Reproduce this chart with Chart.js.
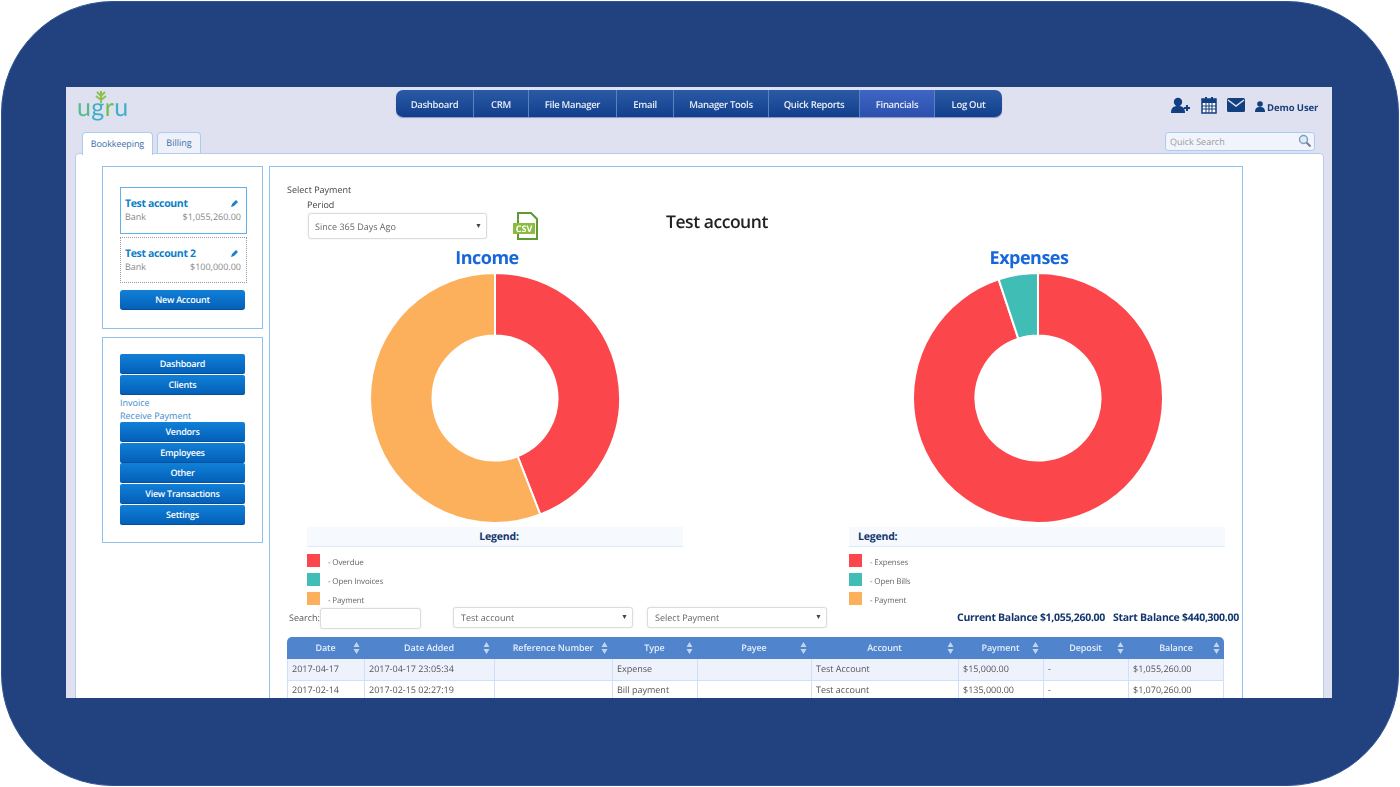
<!DOCTYPE html>
<html>
<head>
<meta charset="utf-8">
<script src="https://cdn.jsdelivr.net/npm/chart.js@4"></script>
<style>
html, body { margin: 0; padding: 0; width: 1400px; height: 787px; overflow: hidden; background: #fff; font-family: "Open Sans", sans-serif; text-rendering: geometricPrecision; }
.a { position: absolute; white-space: nowrap; box-sizing: border-box; }
.box { border: 1.5px solid #8fc0ee; background: #fff; }
.btn { background: linear-gradient(180deg, #1180d8 0%, #0460b8 100%); color: #fff; font-size: 9px; font-weight: 600; letter-spacing: -.25px; text-align: center; border-radius: 2px; left: 120px; width: 125px; line-height: 20px; height: 20px; border-bottom: 1px solid #04509a; }
.input { background: #fff; border: 1px solid #dcdcdc; border-radius: 3px; font-size: 9px; color: #666; box-shadow: 0 0 2px #e6e6e6; }
.arrow { color: #444; font-size: 7px; }
.txt { font-size: 9px; color: #555; }
.navy { color: #14366f; font-weight: 700; }
.sw { width: 13px; height: 13px; }
.legend-head { background: #f6f9fe; border-bottom: 1.5px solid #dcebfa; height: 20px; font-size: 10.5px; line-height: 20px; letter-spacing: -.2px; }
.legend-label { font-size: 8px; color: #666; letter-spacing: -.15px; }
.th { color: #e6eefa; font-size: 9px; font-weight: 600; line-height: 22px; text-align: center; letter-spacing: -.1px; }
.td { font-size: 9px; color: #555; line-height: 20px; padding-left: 5px; }
</style>
</head>
<body>
<div class="a" style="left:1px;top:1px;width:1398px;height:785px;background:#21427f;border:1px solid #2f5597;border-radius:112px;"></div>
<div class="a" id="app" style="left:66px;top:87px;width:1266px;height:611px;background:#dfe1f1;overflow:hidden;"></div>
<div class="a" id="page" style="left:0;top:0;width:1400px;height:698px;overflow:hidden;filter:blur(.3px);"></div>

<script>
// chart data
const incomeLabels = ['Overdue', 'Open Invoices', 'Payment'];
const incomeValues = [44.1, 0, 55.9];
const expenseLabels = ['Expenses', 'Open Bills', 'Payment'];
const expenseValues = [94.9, 5.1, 0];
const sliceColors = ['#fb464c', '#40bdb5', '#fdb05c'];

// page text
const navItems = ['Dashboard', 'CRM', 'File Manager', 'Email', 'Manager Tools', 'Quick Reports', 'Financials', 'Log Out'];
const sideTop = ['Dashboard', 'Clients'];
const sideBottom = ['Vendors', 'Employees', 'Other', 'View Transactions', 'Settings'];
const tableHead = ['Date', 'Date Added', 'Reference Number', 'Type', 'Payee', 'Account', 'Payment', 'Deposit', 'Balance'];
const row1 = ['2017-04-17', '2017-04-17 23:05:34', '', 'Expense', '', 'Test Account', '$15,000.00', '-', '$1,055,260.00'];
const row2 = ['2017-02-14', '2017-02-15 02:27:19', '', 'Bill payment', '', 'Test account', '$135,000.00', '-', '$1,070,260.00'];

// layout, pixels
const navEdges = [396, 474, 529, 617, 674, 769, 860, 935, 1002];
const colEdges = [287, 364, 494, 612, 697, 811, 958, 1043, 1128, 1224];
const sideTopY = [354, 375];
const sideBottomY = [422, 443, 463, 484, 505];

let html = '';
const put = (cls, style, text) => { html += `<div class="a ${cls}" style="${style}">${text || ''}</div>`; };

// logo
put('', 'left:77px;top:93px;font-size:25px;line-height:28px;color:#3fb0c6;font-family:Lato,sans-serif;font-weight:400;letter-spacing:.4px;', '<span style="color:#55bb8c">u</span>g<span style="color:#6cc04a">r</span>u');
html += `<svg class="a" style="left:90px;top:88px" width="20" height="16"><path d="M11 15V3M11 12L6 8M11 12l5-4M11 8L7 4M11 8l4-4" stroke="#8cc152" stroke-width="2" fill="none"/></svg>`;

// top nav
put('', 'left:396px;top:90px;width:606px;height:27px;border-radius:7px;background:linear-gradient(180deg,#2a5aa6 0%,#123f8c 100%);box-shadow:0 1px 1px #8d94c0;');
navItems.forEach((t, i) => {
  const active = t === 'Financials';
  const bg = active ? 'background:linear-gradient(180deg,#3f66c4,#2c4fae);' : '';
  const line = i < navItems.length - 1 ? 'border-right:1px solid #5a82bd;' : '';
  put('', `left:${navEdges[i]}px;top:90px;width:${navEdges[i + 1] - navEdges[i]}px;height:27px;${bg}${line}text-align:center;line-height:29px;color:#e8eef8;font-size:9.5px;font-weight:600;letter-spacing:-.3px;`, t);
});

// header icons
html += `<svg class="a" style="left:1171px;top:97px" width="20" height="17" fill="#123f80"><circle cx="7" cy="5" r="4.2"/><path d="M0 16c0-6 3-7 7-7s7 1 7 7z"/><path d="M13 10h6v2h-6zM15 8h2v6h-2z"/></svg>`;
html += `<svg class="a" style="left:1201px;top:96px" width="16" height="18"><rect x="1" y="3" width="14" height="14" fill="#fff" stroke="#123f80" stroke-width="1.5"/><rect x="1" y="3" width="14" height="4" fill="#123f80"/><path d="M5 1v4M11 1v4" stroke="#123f80" stroke-width="2"/><path d="M1 10h14M1 13h14M5 7v10M8 7v10M11 7v10" stroke="#123f80"/></svg>`;
html += `<svg class="a" style="left:1227px;top:98px" width="18" height="14"><rect width="18" height="14" rx="1.5" fill="#123f80"/><path d="M1 2l8 6 8-6" stroke="#dfe1f1" stroke-width="1.5" fill="none"/></svg>`;
html += `<svg class="a" style="left:1255px;top:101px" width="10" height="11" fill="#123f80"><circle cx="5" cy="3" r="2.8"/><path d="M0 11c0-4 2-5 5-5s5 1 5 5z"/></svg>`;
put('', 'left:1267px;top:101px;font-size:9.5px;font-weight:700;color:#1a3f7a;line-height:13px;letter-spacing:-.1px;', 'Demo User');

// tabs and quick search
put('', 'left:75px;top:153px;width:1249px;height:560px;background:#fff;border:1.5px solid #b4cdea;border-radius:4px;');
put('', 'left:82px;top:132px;width:71px;height:23px;background:#fff;border:1.5px solid #a9cdee;border-bottom:none;border-radius:4px 4px 0 0;text-align:center;line-height:21px;font-size:9px;color:#3a6ea8;letter-spacing:-.1px;', 'Bookkeeping');
put('', 'left:157px;top:132px;width:44px;height:21px;background:#eef1fa;border:1.5px solid #a9cdee;border-bottom:none;border-radius:4px 4px 0 0;text-align:center;line-height:20px;font-size:9px;color:#3a6ea8;', 'Billing');
put('', 'left:1165px;top:132px;width:150px;height:19px;background:#f1f4fc;border:1.5px solid #a9cdee;border-radius:3px;font-size:9px;color:#9a9a9a;line-height:17px;padding-left:4px;', 'Quick Search');
html += `<svg class="a" style="left:1298px;top:134px" width="14" height="14"><circle cx="5.5" cy="5.5" r="4" fill="#dfeaf7" stroke="#7f9fc2" stroke-width="1.5"/><path d="M8.5 8.5l4 4" stroke="#6d7f95" stroke-width="2"/></svg>`;

// side panels
put('box', 'left:102px;top:166px;width:161px;height:163px;');
put('', 'left:120px;top:187px;width:127px;height:47px;border:1.5px solid #62b0ea;background:#fff;');
put('', 'left:125px;top:197px;font-size:10.5px;font-weight:700;color:#0a80c8;line-height:14px;letter-spacing:-.35px;', 'Test account');
put('txt', 'left:125px;top:210px;color:#888;line-height:13px;', 'Bank');
put('txt', 'right:1159px;top:210px;color:#888;line-height:13px;', '$1,055,260.00');
put('', 'left:120px;top:237px;width:127px;height:46px;border:1px dotted #999;background:#fff;');
put('', 'left:125px;top:247px;font-size:10.5px;font-weight:700;color:#0a80c8;line-height:14px;letter-spacing:-.35px;', 'Test account 2');
put('txt', 'left:125px;top:260px;color:#888;line-height:13px;', 'Bank');
put('txt', 'right:1159px;top:260px;color:#888;line-height:13px;', '$100,000.00');
[[230, 203], [230, 253]].forEach(p => {
  html += `<svg class="a" style="left:${p[0]}px;top:${p[1] - 4}px" width="9" height="9"><path d="M1 8l1-3 4-4 2 2-4 4z" fill="#1b7fd0"/></svg>`;
});
put('btn', 'top:290px;border-radius:3px;', 'New Account');

put('box', 'left:102px;top:337px;width:161px;height:206px;');
sideTop.forEach((t, i) => put('btn', `top:${sideTopY[i]}px;`, t));
put('', 'left:120px;top:396px;font-size:9px;color:#3d8ccb;line-height:13px;', 'Invoice');
put('', 'left:120px;top:409px;font-size:9px;color:#3d8ccb;line-height:13px;', 'Receive Payment');
sideBottom.forEach((t, i) => put('btn', `top:${sideBottomY[i]}px;`, t));

// main panel
put('box', 'left:269px;top:166px;width:974px;height:560px;');
put('txt', 'left:287px;top:183px;line-height:13px;color:#444;', 'Select Payment');
put('txt', 'left:307px;top:198px;line-height:13px;color:#444;', 'Period');
put('input', 'left:308px;top:213px;width:179px;height:26px;line-height:25px;padding-left:6px;', 'Since 365 Days Ago');
put('arrow', 'left:475px;top:222px;', '▼');
html += `<svg class="a" style="left:512px;top:212px" width="27" height="29"><path d="M6 1h13l6 6v20H6z" fill="#fff" stroke="#5f9a32" stroke-width="2"/><rect x="1" y="11" width="22" height="11" fill="#8cbc3f"/><text x="12" y="20" text-anchor="middle" font-size="9" font-weight="700" fill="#fff" font-family="Open Sans">CSV</text></svg>`;
put('', 'left:666px;top:210px;font-size:17.5px;font-weight:600;color:#222;line-height:25px;letter-spacing:-.45px;', 'Test account');
put('', 'left:387px;width:200px;text-align:center;top:246px;font-size:18px;font-weight:700;color:#1766dc;line-height:25px;letter-spacing:-.5px;', 'Income');
put('', 'left:929px;width:200px;text-align:center;top:246px;font-size:18px;font-weight:700;color:#1766dc;line-height:25px;letter-spacing:-.5px;', 'Expenses');

// legends
put('legend-head navy', 'left:307px;top:527px;width:376px;text-align:center;padding-left:8px;', 'Legend:');
put('legend-head navy', 'left:849px;top:527px;width:376px;padding-left:9px;', 'Legend:');
[555, 574, 593].forEach((y, i) => {
  put('sw', `left:307px;top:${y - 1}px;background:${sliceColors[i]};`);
  put('legend-label', `left:328px;top:${y + 1}px;line-height:13px;`, '- ' + incomeLabels[i]);
  put('sw', `left:849px;top:${y - 1}px;background:${sliceColors[i]};`);
  put('legend-label', `left:870px;top:${y + 1}px;line-height:13px;`, '- ' + expenseLabels[i]);
});

// filters
put('txt', 'left:289px;top:611px;line-height:13px;', 'Search:');
put('input', 'left:320px;top:608px;width:101px;height:21px;');
put('input', 'left:453px;top:607px;width:180px;height:21px;line-height:20px;padding-left:7px;', 'Test account');
put('arrow', 'left:621px;top:613px;', '▼');
put('input', 'left:647px;top:607px;width:180px;height:21px;line-height:20px;padding-left:7px;', 'Select Payment');
put('arrow', 'left:815px;top:613px;', '▼');
put('navy', 'left:957px;top:611px;font-size:10.5px;line-height:15px;letter-spacing:-.3px;', 'Current Balance $1,055,260.00');
put('navy', 'left:1113px;top:611px;font-size:10.5px;line-height:15px;letter-spacing:-.28px;', 'Start Balance $440,300.00');

// table
put('', 'left:287px;top:637px;width:937px;height:22px;background:#5084cc;border-radius:5px 5px 0 0;');
put('', 'left:287px;top:659px;width:937px;height:21px;background:#eef2fd;');
put('', 'left:287px;top:680px;width:937px;height:20px;background:#fff;');
put('', 'left:287px;top:680px;width:937px;height:1px;background:#cfe0f8;');
tableHead.forEach((t, i) => {
  const x = colEdges[i], w = colEdges[i + 1] - x;
  put('th', `left:${x}px;top:637px;width:${w}px;`, t);
  html += `<svg class="a" style="left:${colEdges[i + 1] - 11}px;top:642px" width="7" height="12" fill="#c3d5ee"><path d="M3.5 0l3 5h-6zM3.5 12l3-5h-6z"/></svg>`;
  put('', `left:${colEdges[i]}px;top:659px;width:1px;height:41px;background:#cfe0f8;`);
  put('td', `left:${x}px;top:659px;`, row1[i]);
  put('td', `left:${x}px;top:680px;`, row2[i]);
});
put('', 'left:1223px;top:659px;width:1px;height:41px;background:#cfe0f8;');

// chart canvases
html += '<div class="a" style="left:369px;top:271.5px;width:252px;height:252px;"><canvas id="incomeChart"></canvas></div>';
html += '<div class="a" style="left:911.5px;top:271.5px;width:252px;height:252px;"><canvas id="expenseChart"></canvas></div>';

document.getElementById('page').innerHTML = html;

function drawDonut(id, labels, values) {
  new Chart(document.getElementById(id), {
    type: 'doughnut',
    data: {
      labels: labels,
      datasets: [{ data: values, backgroundColor: sliceColors, borderColor: '#fff', borderWidth: 2 }]
    },
    options: {
      responsive: true,
      maintainAspectRatio: false,
      animation: false,
      cutout: '50%',
      plugins: { legend: { display: false }, tooltip: { enabled: false } }
    }
  });
}
drawDonut('incomeChart', incomeLabels, incomeValues);
drawDonut('expenseChart', expenseLabels, expenseValues);
</script>
</body>
</html>
